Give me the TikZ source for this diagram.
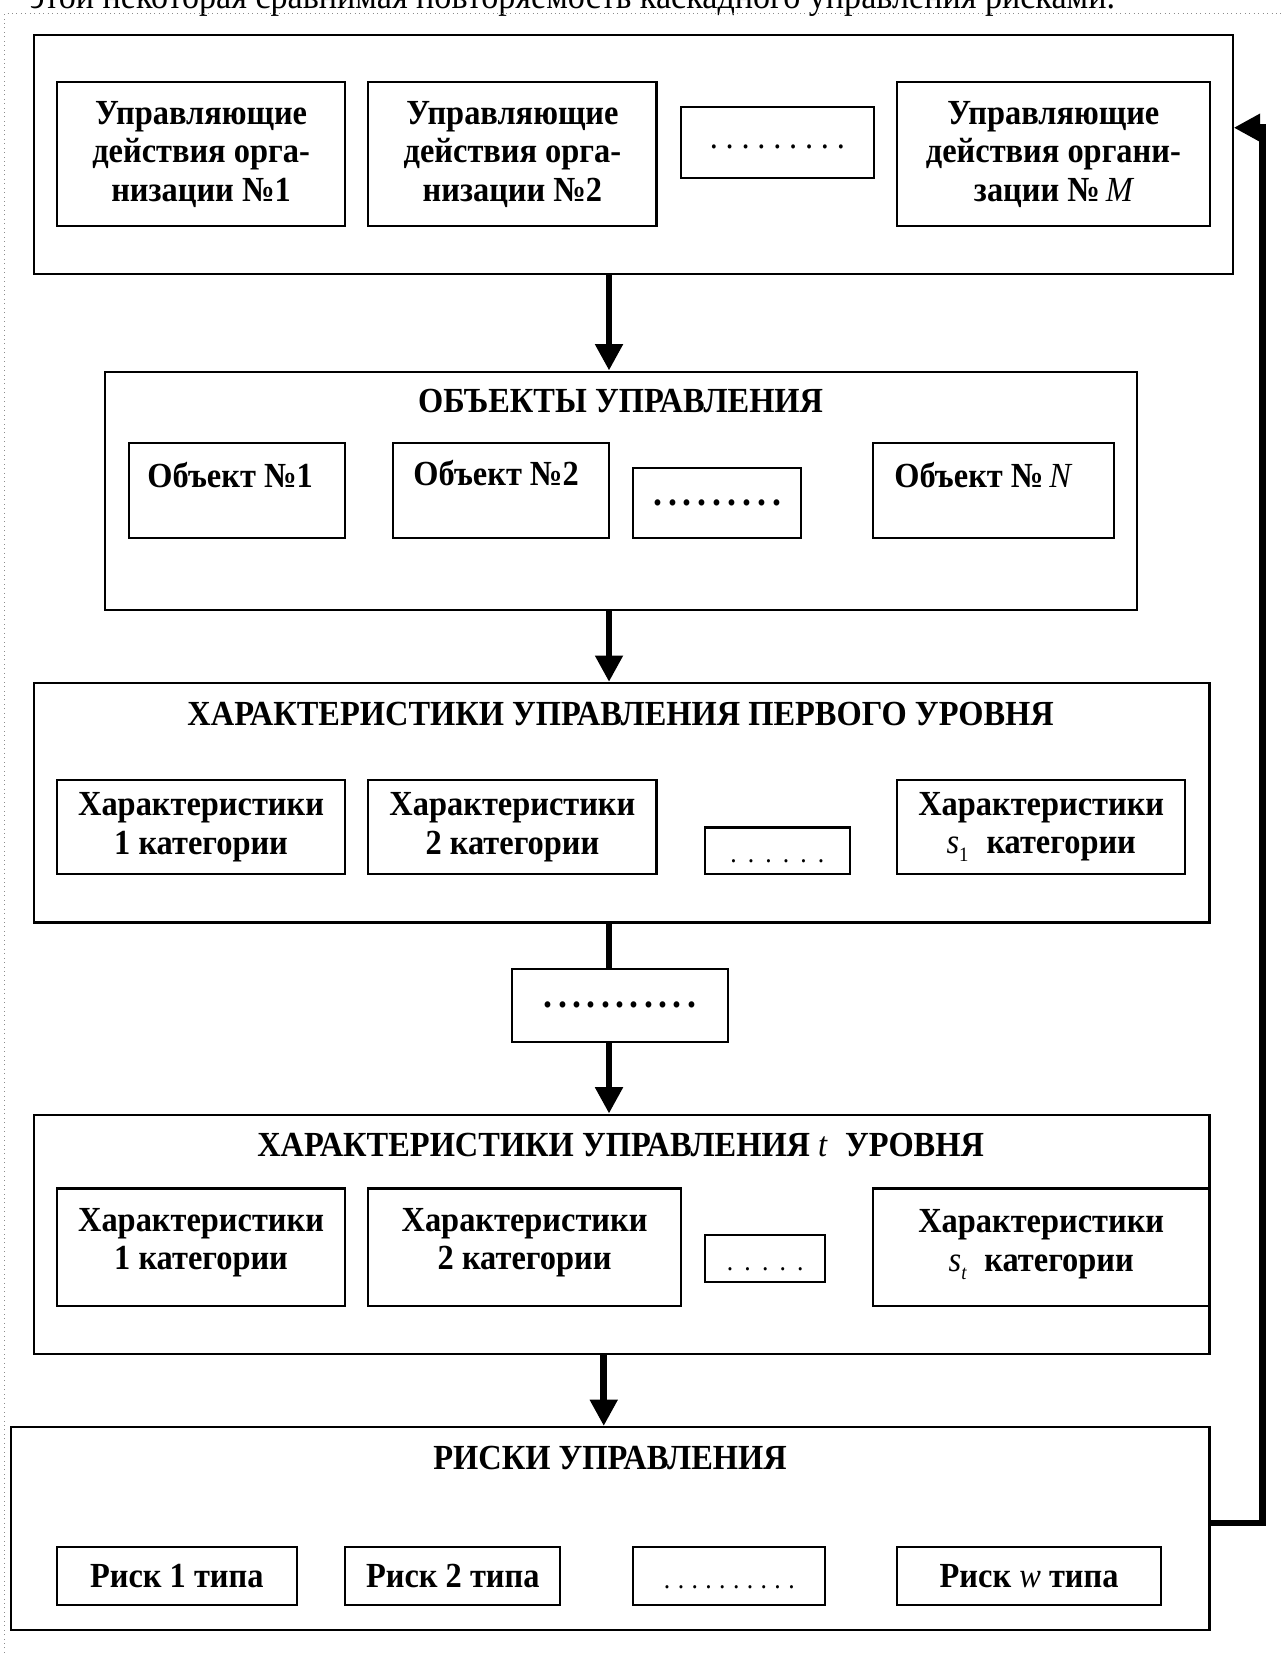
\documentclass[tikz,border=0pt]{standalone}
\usepackage{fontspec}
\setmainfont{Liberation Serif}[FakeStretch=0.92]
\usetikzlibrary{arrows.meta}

\newcommand{\ivar}[1]{{\mdseries\itshape #1}}
\newcommand{\ivsub}[2]{{\mdseries\itshape #1}\raisebox{-0.5ex}{\fontsize{11}{11}\selectfont\mdseries #2}}
\newcommand{\dotrow}[2]{.\foreach \k in {2,...,#1}{\hspace{#2}.}}

\tikzset{
    txt/.style={font=\fontsize{19}{20.8}\selectfont\bfseries},
    blk/.style 2 args={draw=black, line width=1.1pt, minimum width=#1, minimum height=#2, inner sep=0pt, align=center, txt},
    lowdots/.style={text height=0.45cm, text depth=0pt},
    bigdots/.style={font=\fontsize{21}{23}\selectfont\bfseries},
    flow/.style={draw=black, line width=3.6pt, -{Triangle[length=0.5cm, width=0.5cm]}},
    link/.style={draw=black, line width=3.6pt},
    frame/.style={draw=black!45, thin, dotted}
}

\begin{document}
\begin{tikzpicture}[x=0.02cm, y=-0.02cm]
            \useasboundingbox (0,0) rectangle (1216,1568);
            \clip (0,0) rectangle (1216,1568);

            \node[anchor=base west, font=\fontsize{20}{22}\selectfont] (topline) at (22,8) {этой некоторая сравнимая повторяемость каскадного управления рисками.};
            \draw[frame] (4,1570) -- (4,13) -- (1220,13);

            \node[blk={22.72cm}{4.54cm}] (a) at (600,146.5) {};
            \node[blk={5.46cm}{2.72cm}] (a1) at (190.5,146) {Управляющие\\действия орга-\\низации №1};
            \node[blk={5.46cm}{2.72cm}] (a2) at (485.5,146) {Управляющие\\действия орга-\\низации №2};
            \node[blk={3.66cm}{1.36cm}, text height=0.22cm, text depth=0pt, font=\fontsize{19}{21}\selectfont\mdseries] (a3) at (736.5,135) {\dotrow{9}{4.2pt}};
            \node[blk={5.92cm}{2.72cm}] (a4) at (998,146) {Управляющие\\действия органи-\\зации №\,\ivar{M}};

            \node[blk={19.56cm}{4.52cm}] (b) at (588,465) {};
            \node[txt] (btitle) at (588,380) {ОБЪЕКТЫ УПРАВЛЕНИЯ};
            \node[blk={4.10cm}{1.80cm}] (b1) at (224.5,465) {};
            \node[blk={4.10cm}{1.80cm}] (b2) at (474.5,465) {};
            \node[blk={3.18cm}{1.34cm}, bigdots] (b3) at (679.5,476.5) {\dotrow{9}{3.2pt}};
            \node[blk={4.56cm}{1.80cm}] (b4) at (941,465) {};
            \node[txt] (b1t) at (218,450) {Объект №1};
            \node[txt] (b2t) at (470,448) {Объект №2};
            \node[txt] (b4t) at (931,450) {Объект №\,\ivar{N}};

            \node[blk={22.28cm}{4.54cm}] (c) at (589,760.5) {};
            \node[txt] (ctitle) at (588,676) {ХАРАКТЕРИСТИКИ УПРАВЛЕНИЯ ПЕРВОГО УРОВНЯ};
            \node[blk={5.46cm}{1.78cm}] (c1) at (190.5,783.5) {Характеристики\\1 категории};
            \node[blk={5.46cm}{1.78cm}] (c2) at (485.5,783.5) {Характеристики\\2 категории};
            \node[blk={2.74cm}{0.88cm}, lowdots, font=\fontsize{15}{17}\selectfont\mdseries] (c3) at (736.5,806) {\dotrow{6}{6pt}};
            \node[blk={5.46cm}{1.78cm}] (c4) at (986.5,783.5) {Характеристики\\\ivsub{s}{1}\; категории};

            \node[blk={4.10cm}{1.38cm}, bigdots] (d) at (587.5,952.5) {\dotrow{11}{2.9pt}};

            \node[blk={22.28cm}{4.54cm}] (e) at (589,1169.5) {};
            \node[txt] (etitle) at (588,1085) {ХАРАКТЕРИСТИКИ УПРАВЛЕНИЯ \ivar{t}\; УРОВНЯ};
            \node[blk={5.46cm}{2.22cm}, text depth=0.3cm] (e1) at (190.5,1181.5) {Характеристики\\1 категории};
            \node[blk={5.92cm}{2.22cm}, text depth=0.3cm] (e2) at (497,1181.5) {Характеристики\\2 категории};
            \node[blk={2.28cm}{0.90cm}, lowdots, font=\fontsize{15}{17}\selectfont\mdseries] (e3) at (725,1192.5) {\dotrow{5}{6pt}};
            \node[blk={6.38cm}{2.22cm}, text depth=0.25cm] (e4) at (986.5,1181.5) {Характеристики\\\ivsub{s}{\itshape t}\; категории};

            \node[blk={22.72cm}{3.84cm}] (f) at (578,1448) {};
            \node[txt] (ftitle) at (578,1381) {РИСКИ УПРАВЛЕНИЯ};
            \node[blk={4.54cm}{1.10cm}] (f1) at (167.5,1493.5) {Риск 1 типа};
            \node[blk={4.08cm}{1.10cm}] (f2) at (429,1493.5) {Риск 2 типа};
            \node[blk={3.64cm}{1.10cm}, lowdots, font=\fontsize{15}{17}\selectfont\mdseries] (f3) at (691,1493.5) {\dotrow{10}{4pt}};
            \node[blk={5.00cm}{1.10cm}] (f4) at (975,1493.5) {Риск \ivar{w} типа};

            \coordinate (spine) at (577,0);
            \coordinate (spinelow) at (572,0);
            \coordinate (fb) at (1196,1443);
            \coordinate (fbtop) at (1196,121);

            \draw[flow] (a.south -| spine) -- (b.north -| spine);
            \draw[flow] (b.south -| spine) -- (c.north -| spine);
            \draw[link] (c.south -| spine) -- (d.north -| spine);
            \draw[flow] (d.south -| spine) -- (e.north -| spine);
            \draw[flow] (e.south -| spinelow) -- (f.north -| spinelow);
            \draw[flow] (f.east |- fb) -- (fb) -- (fbtop) -- (a.east |- fbtop);

        \end{tikzpicture}
\end{document}
